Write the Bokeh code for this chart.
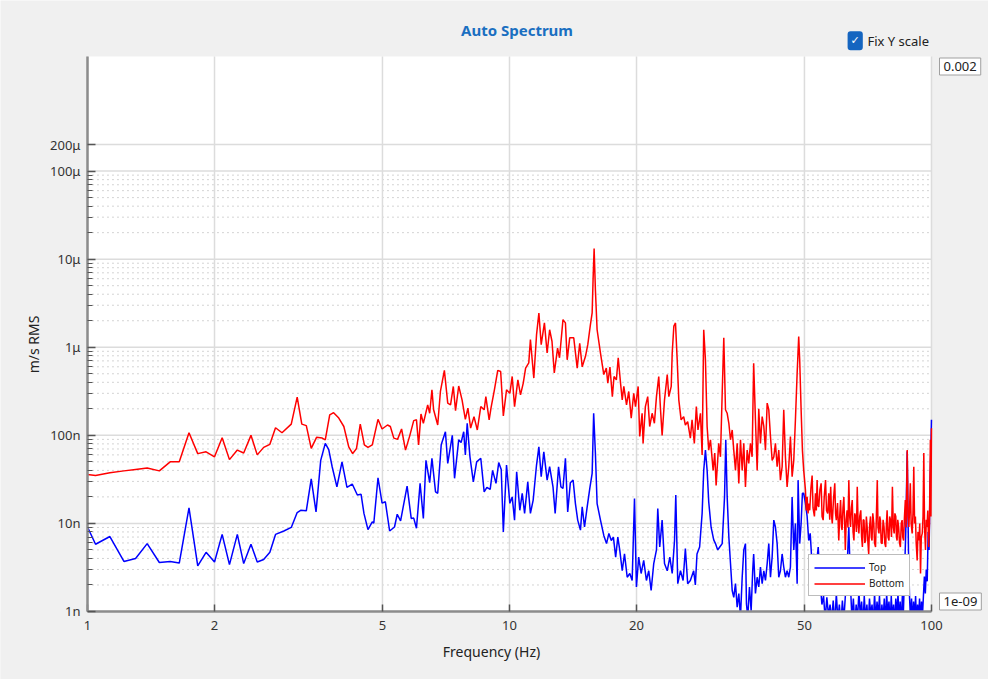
import math
from bokeh.plotting import figure
from bokeh.models import FixedTicker, CustomJSTickFormatter, Label
from bokeh.embed import file_html
from bokeh.resources import INLINE

# ---------------- data (frequency in Hz, amplitude in nm/s RMS) ----------------
top_freq = [
    1.0, 1.045, 1.13, 1.22, 1.30, 1.385, 1.48, 1.57, 1.65, 1.74, 1.825, 1.91, 2.0, 2.085, 2.17,
    2.265, 2.345, 2.44, 2.525, 2.615, 2.705, 2.79, 2.92, 3.04, 3.14, 3.20, 3.30, 3.39, 3.48, 3.57,
    3.66, 3.73, 3.80, 3.90, 4.01, 4.12, 4.24, 4.36, 4.45, 4.52, 4.62, 4.73, 4.77, 4.88, 4.99,
    5.08, 5.20, 5.34, 5.42, 5.52, 5.72, 5.85, 5.93, 6.02, 6.14, 6.25, 6.34, 6.47, 6.55, 6.68,
    6.76, 6.89, 7.05, 7.14, 7.32, 7.41, 7.58, 7.68, 7.79, 7.86, 7.94, 8.06, 8.21, 8.36, 8.55,
    8.71, 8.84, 9.0, 9.12, 9.29, 9.43, 9.56, 9.67, 9.84, 10.02, 10.15, 10.28, 10.40, 10.58, 10.72,
    10.86, 11.05, 11.21, 11.38, 11.59, 11.74, 11.89, 12.06, 12.28, 12.45, 12.68, 12.83, 13.07, 13.24, 13.39,
    13.57, 13.74, 13.94, 14.15, 14.33, 14.51, 14.73, 14.87, 15.06, 15.28, 15.5, 15.7, 15.83, 15.98, 16.13,
    16.43, 16.73, 16.98, 17.2, 17.43, 17.63, 17.85, 18.06, 18.25, 18.5, 18.73, 19.01, 19.28, 19.53, 19.78,
    19.99, 20.24, 20.51, 20.8, 21.11, 21.38, 21.66, 21.97, 22.3, 22.46, 22.7, 23.0, 23.3, 23.65, 23.99,
    24.3, 24.61, 24.78, 25.05, 25.42, 25.79, 26.11, 26.44, 26.83, 27.32, 27.57, 27.82, 28.22, 28.61, 28.86,
    29.13, 29.40, 29.66, 30.05, 30.48, 30.77, 31.15, 31.50, 31.92, 32.33, 32.55, 32.8, 33.1, 33.4, 33.71,
    34.0, 34.32, 34.64, 34.95, 35.27, 35.6, 35.91, 36.24, 36.44, 36.7, 37.04, 37.38, 37.7, 37.9, 38.27,
    38.63, 38.97, 39.33, 39.7, 40.06, 40.42, 40.8, 41.16, 41.54, 41.92, 42.3, 42.68, 43.08, 43.46, 43.86,
    44.27, 44.66, 45.07, 45.49, 45.9, 46.32, 46.75, 47.17, 47.6, 48.05, 48.3, 48.72, 49.1, 49.45, 49.8,
    50.27, 50.74, 51.18, 51.6, 52.1, 52.6, 53.3, 53.9, 54.6, 55.0, 55.5, 56.0, 56.5, 57.0, 57.5,
    58.0, 58.5, 59.0, 59.5, 60.0, 60.5, 61.0, 61.5, 62.0, 62.5, 63.0, 63.7, 64.3, 64.8, 65.3,
    65.8, 66.3, 66.8, 67.3, 67.8, 68.3, 68.8, 69.3, 69.8, 70.3, 70.8, 71.3, 71.8, 72.3, 72.8,
    73.3, 73.8, 74.3, 74.8, 75.3, 75.8, 76.3, 76.8, 77.3, 77.8, 78.3, 78.8, 79.3, 79.8, 80.3,
    80.8, 81.3, 81.8, 82.3, 82.8, 83.3, 83.8, 84.3, 84.8, 85.3, 85.8, 86.3, 86.9, 87.6, 88.2,
    88.7, 89.2, 89.7, 90.2, 90.7, 91.2, 91.7, 92.2, 92.7, 93.2, 93.7, 94.2, 94.7, 95.2, 95.7,
    96.2, 96.7, 97.2, 97.7, 98.2, 98.7, 99.2, 99.6, 100.0,
]
top_nms = [
    9.1, 5.8, 7.1, 3.7, 4.0, 5.9, 3.6, 3.7, 3.55, 15, 3.3, 4.7, 3.65, 7.5, 3.4,
    7.5, 3.5, 5.8, 3.65, 3.9, 4.7, 7.5, 8.2, 9.0, 13.3, 14.1, 13.9, 32, 13.5, 52,
    81, 69, 44, 26, 50, 25.6, 28, 21, 21.4, 13, 8.5, 10.4, 10.1, 33, 17,
    17.6, 8.2, 9.1, 12.7, 10.7, 26.5, 11.4, 11.5, 8.8, 28.5, 11.4, 52, 29, 55, 22.8,
    22, 78, 110, 48, 100, 32.5, 89, 83, 110, 60, 137, 57, 29.6, 50, 55,
    22.8, 25.6, 24.3, 40, 28.5, 49, 41, 8, 46, 16.9, 20, 10.9, 38.6, 14.1, 22,
    13, 29.6, 13, 18.4, 46, 74, 34, 65, 31, 44, 26, 13, 44, 26, 25,
    55, 13.5, 29, 31, 16.8, 10.9, 8.4, 15.4, 9.1, 15.4, 25, 37, 178, 63, 16.8,
    10.9, 7.3, 5.9, 7.7, 6.4, 7, 4.15, 7, 5, 2.9, 4.5, 2.45, 2.7, 2.25, 19.2,
    1.9, 4.15, 2.7, 3.8, 2.25, 2.9, 1.73, 3.5, 5, 14.8, 5.4, 10.9, 3.5, 2.9, 4.15,
    2.7, 6.4, 21, 2.07, 2.9, 2.25, 5.2, 2.07, 2.25, 2.9, 2, 4.5, 5.4, 13, 40,
    68, 40, 17.5, 9, 6.5, 5.9, 5, 5.4, 5.9, 20, 89, 20, 7, 3.5, 1.73,
    1.45, 2.07, 1.12, 1.6, 0.86, 2.45, 5, 5.9, 1.22, 0.86, 1.9, 1.02, 2.9, 4.5, 1.6,
    2.45, 1.9, 3.2, 2.07, 2.9, 2.25, 3.5, 5.9, 2.45, 4.15, 10.9, 9.1, 5.9, 2.45, 2.9,
    4.5, 3.2, 2.45, 2.9, 2.45, 3.2, 20, 5, 10, 2.07, 31, 5.9, 10, 22, 22,
    17, 12, 6.4, 7.7, 3.5, 4.5, 3.2, 5.4, 1.9, 1.2, 1.5, 0.8, 1.45, 0.9, 1.2,
    0.8, 1.33, 0.7, 1.6, 0.8, 1.2, 0.7, 1.33, 0.8, 1.5, 2.7, 9.1, 1.9, 0.8, 1.4,
    0.7, 1.2, 0.8, 1.7, 0.9, 1.3, 0.7, 1.5, 0.8, 1.2, 0.7, 1.4, 0.9, 1.2, 0.7,
    1.6, 0.8, 1.3, 0.9, 1.5, 0.7, 1.2, 0.8, 1.4, 0.7, 1.6, 0.9, 1.3, 0.7, 1.5,
    0.8, 1.2, 0.7, 1.4, 0.9, 1.6, 0.8, 1.3, 0.7, 1.5, 1.0, 2.5, 8, 66, 5,
    1.5, 0.8, 1.4, 0.7, 1.3, 0.8, 1.5, 0.7, 1.2, 0.8, 1.4, 0.7, 1.3, 0.9, 1.5,
    2.5, 1.6, 3, 2.2, 8, 5, 25, 60, 150,
]

bottom_freq = [
    1.0, 1.045, 1.13, 1.22, 1.30, 1.385, 1.48, 1.57, 1.65, 1.74, 1.825, 1.91, 2.0, 2.085, 2.17,
    2.265, 2.345, 2.44, 2.525, 2.615, 2.705, 2.79, 2.89, 3.04, 3.14, 3.22, 3.30, 3.39, 3.49, 3.60,
    3.66, 3.75, 3.83, 3.94, 4.05, 4.16, 4.25, 4.34, 4.43, 4.53, 4.62, 4.73, 4.88, 4.99, 5.14,
    5.22, 5.32, 5.43, 5.55, 5.67, 5.80, 5.93, 6.02, 6.09, 6.17, 6.25, 6.40, 6.47, 6.55, 6.61,
    6.76, 6.86, 7.01, 7.14, 7.25, 7.36, 7.45, 7.58, 7.72, 7.86, 7.97, 8.09, 8.24, 8.39, 8.55,
    8.71, 8.79, 8.95, 9.04, 9.21, 9.38, 9.53, 9.67, 9.84, 10.02, 10.15, 10.28, 10.47, 10.62, 10.78,
    10.92, 11.11, 11.21, 11.42, 11.59, 11.74, 11.89, 12.1, 12.28, 12.45, 12.61, 12.77, 13.0, 13.14, 13.39,
    13.57, 13.7, 13.89, 14.2, 14.47, 14.67, 14.87, 15.14, 15.33, 15.55, 15.7, 15.78, 15.87, 15.98, 16.13,
    16.43, 16.73, 16.96, 17.1, 17.3, 17.53, 17.69, 17.92, 18.1, 18.33, 18.5, 18.66, 18.94, 19.17, 19.43,
    19.7, 19.89, 20.18, 20.35, 20.62, 20.73, 20.99, 21.26, 21.49, 21.78, 22.05, 22.3, 22.58, 22.8, 23.0,
    23.3, 23.65, 23.86, 24.17, 24.3, 24.52, 24.74, 24.97, 25.19, 25.51, 25.87, 26.11, 26.44, 26.83, 27.08,
    27.42, 27.72, 27.97, 28.35, 28.61, 28.86, 29.13, 29.40, 29.66, 29.94, 30.38, 30.65, 30.88, 31.32, 31.62,
    31.92, 32.2, 32.5, 32.8, 33.1, 33.4, 33.71, 34.0, 34.32, 34.64, 34.95, 35.27, 35.6, 35.91, 36.24,
    36.58, 36.9, 37.24, 37.58, 37.9, 38.27, 38.63, 38.97, 39.33, 39.7, 40.06, 40.42, 40.8, 41.16, 41.54,
    41.92, 42.3, 42.68, 43.08, 43.46, 43.86, 44.27, 44.66, 45.07, 45.49, 45.9, 46.32, 46.75, 47.17, 47.6,
    48.05, 48.46, 48.72, 49.1, 49.45, 49.8,
    50.27, 50.5, 50.74, 51.0, 51.18, 51.46, 51.8, 52.14, 52.4, 52.8, 53.1, 53.35, 53.58, 53.8, 54.06,
    54.4, 54.77, 55.05, 55.38, 55.7, 56.1, 56.4, 56.77, 57.1, 57.4, 57.7, 58.0, 58.2, 58.6, 59.0,
    59.25, 59.5, 59.9, 60.3, 60.6, 60.9, 61.2, 61.4, 61.7, 62.0, 62.3, 62.5, 62.8, 63.1, 63.4,
    63.7, 64.0, 64.3, 64.6, 64.9, 65.2, 65.5, 65.8, 66.1, 66.4, 66.7, 67.0, 67.3, 67.6, 68.0,
    68.3, 68.6, 68.9, 69.2, 69.5, 69.8, 70.1, 70.4, 70.7, 71.0, 71.3, 71.7, 72.0, 72.3, 72.6,
    73.0, 73.3, 73.7, 74.0, 74.4, 74.7, 75.1, 75.4, 75.7, 76.0, 76.4, 76.8, 77.2, 77.5, 77.9,
    78.2, 78.5, 78.9, 79.3, 79.6, 80.0, 80.4, 80.8, 81.2, 81.6, 81.9, 82.3, 82.6, 82.9, 83.2,
    83.6, 84.0, 84.4, 84.8, 85.2, 85.5, 85.9, 86.3, 86.7, 87.1, 87.6, 88.0, 88.4, 88.7, 89.1,
    89.5, 90.0, 90.4, 90.8, 91.2, 91.6, 92.0, 92.5, 92.9, 93.4, 93.8, 94.2, 94.6, 95.1, 95.5,
    95.9, 96.3, 96.8, 97.2, 97.6, 98.0, 98.5, 98.9, 99.4, 99.7, 100.0,
]
bottom_nms = [
    36, 35, 37.6, 39.5, 41, 42.5, 39.5, 50, 50, 107, 62, 65, 57, 94, 53,
    68, 63, 100, 60, 73, 79, 122, 107, 134, 272, 134, 129, 71, 95, 93,
    89, 171, 181, 157, 126, 74, 62, 71, 134, 78, 73, 78, 152, 118, 131,
    126, 93, 90, 118, 68, 98, 147, 150, 78, 175, 137, 222, 178, 329, 195,
    131, 315, 546, 232, 222, 359, 191, 363, 253, 152, 204, 121, 163, 115, 212,
    195, 275, 150, 204, 329, 546, 530, 166, 329, 300, 466, 212, 427, 288, 392,
    580, 664, 1220, 447, 1380, 2450, 1070, 1890, 860, 1580, 1170, 510, 980, 760, 2060,
    1890, 720, 1280, 1280, 580, 1110, 600, 790, 1070, 1800, 2450, 5900, 13200, 4530, 1580,
    860, 490, 580, 392, 596, 275, 466, 427, 760, 392, 253, 359, 222, 315, 157,
    300, 212, 359, 97, 178, 81, 212, 275, 126, 178, 137, 275, 466, 195, 100,
    253, 490, 275, 359, 860, 1740, 1890, 720, 253, 150, 163, 131, 143, 93, 150,
    81, 212, 115, 178, 60, 1580, 720, 126, 68, 89, 40, 63, 27, 81, 57,
    300, 1280, 195, 178, 137, 89, 115, 68, 40, 81, 28.5, 89, 40, 81, 26,
    68, 48, 81, 57, 660, 150, 40, 200, 81, 163, 126, 68, 232, 195, 97,
    52, 57, 81, 44, 68, 31, 44, 195, 57, 26, 44, 97, 34, 52, 150,
    510, 1320, 720, 195, 68, 40,
    24, 14, 20, 13, 16.8, 14.1, 25, 35, 15, 12, 22, 14, 31, 16, 15.4,
    24, 28.5, 12, 10.9, 20, 31, 14, 13, 22, 11, 26, 12, 10, 19, 28.5,
    13, 10.9, 17, 6.4, 12, 18.4, 9, 8.4, 15, 20, 9, 5, 11, 14.1, 9,
    31, 12, 9.1, 15, 18.4, 8, 6.4, 13, 12, 8, 26, 10, 7.7, 12, 14.1,
    7, 5.4, 11, 10.9, 6, 6.4, 12, 9.1, 6, 4.5, 9, 12, 7, 6.4, 13,
    10, 6, 5.4, 11, 31, 9, 7.7, 12, 10.9, 6, 5.9, 11, 9.1, 6, 5.4,
    10, 14.1, 7, 6.4, 12, 10.9, 7, 26, 9, 7.7, 13, 12, 7, 6.4, 11,
    9.1, 6, 5.4, 10, 10.9, 7, 6.4, 12, 18.4, 9, 68, 12, 9.1, 14, 28.5,
    10, 7.7, 13, 44, 10, 12, 6, 3.8, 8, 6.4, 10, 2.7, 7, 7.7, 12,
    63, 9, 5, 11, 9.1, 14, 5.4, 10, 89, 12, 120,
]

x_tick_values = [1, 2, 5, 10, 20, 50, 100]
x_tick_labels = ["1", "2", "5", "10", "20", "50", "100"]
y_tick_values = [1e-9, 1e-8, 1e-7, 1e-6, 1e-5, 1e-4, 2e-4]
y_tick_labels = ["1n", "10n", "100n", "1μ", "10μ", "100μ", "200μ"]
y_minor_values = [m * 10.0 ** e for e in range(-9, -4) for m in range(2, 10)]
x_limits = (1, 100)          # plotted frequency span
y_limits = (1e-9, 2e-3)      # fixed y scale
x_view = (0.6221, 136.5)     # whole canvas is the frame; the plot box sits inside it
y_view = (1.69e-10, 8.65e-3)

NANO = 1e-9
top_vals = [v * NANO for v in top_nms]
bottom_vals = [v * NANO for v in bottom_nms]

FONT = "Noto Sans"
BG = "#f0f0f0"

p = figure(width=988, height=679, x_axis_type="log", y_axis_type="log",
           x_range=x_view, y_range=y_view, title_location=None,
           output_backend="svg", toolbar_location=None,
           background_fill_color=BG, border_fill_color=BG,
           min_border_left=0, min_border_right=0, min_border_top=0, min_border_bottom=0)
p.outline_line_color = None
p.xgrid.visible = False
p.ygrid.visible = False

# white plotting area and grid lines (bounded to the plotted span)
p.quad(left=[x_limits[0]], right=[x_limits[1]], bottom=[y_limits[0]], top=[y_limits[1]],
       fill_color="white", line_color=None, level="image")
p.segment(x0=[x_limits[0]] * len(y_minor_values), x1=[x_limits[1]] * len(y_minor_values),
          y0=y_minor_values, y1=y_minor_values, line_color="#a8a8a8", line_width=1,
          line_dash="1 4", level="underlay")
p.segment(x0=[x_limits[0]] * len(y_tick_values), x1=[x_limits[1]] * len(y_tick_values),
          y0=y_tick_values, y1=y_tick_values, line_color="#dcdcdc", line_width=1.5, level="underlay")
p.segment(x0=x_tick_values, x1=x_tick_values, y0=[y_limits[0]] * len(x_tick_values),
          y1=[y_limits[1]] * len(x_tick_values), line_color="#dcdcdc", line_width=1.5, level="underlay")

p.line(top_freq, top_vals, line_color="#0000ff", line_width=1.5, legend_label="Top")
p.line(bottom_freq, bottom_vals, line_color="#ff0000", line_width=1.5, legend_label="Bottom")

# mask everything below the fixed y scale (values under 1n are clipped)
p.quad(left=[x_view[0]], right=[x_view[1]], bottom=[y_view[0]], top=[y_limits[0]],
       fill_color=BG, line_color=None)

# axes drawn at fixed locations inside the canvas-wide frame
p.xaxis.fixed_location = y_limits[0]
p.yaxis.fixed_location = x_limits[0]
p.xaxis.ticker = FixedTicker(ticks=x_tick_values)
p.xaxis.formatter = CustomJSTickFormatter(args=dict(vals=x_tick_values, labs=x_tick_labels), code="""
for (let i = 0; i < vals.length; i++) {
  if (Math.abs(tick - vals[i]) < 1e-6 * vals[i]) return labs[i];
}
return "";
""")
p.yaxis.ticker = FixedTicker(ticks=y_tick_values, minor_ticks=y_minor_values)
p.yaxis.formatter = CustomJSTickFormatter(args=dict(vals=y_tick_values, labs=y_tick_labels), code="""
for (let i = 0; i < vals.length; i++) {
  if (Math.abs(Math.log10(tick) - Math.log10(vals[i])) < 1e-6) return labs[i];
}
return "";
""")
p.xaxis.bounds = x_limits
p.yaxis.bounds = y_limits
for ax in (p.xaxis[0], p.yaxis[0]):
    ax.axis_line_color = "#8c8c8c"
    ax.axis_line_width = 2.5
    ax.major_tick_line_color = "#555555"
    ax.major_tick_line_width = 1.5
    ax.minor_tick_line_color = "#555555"
    ax.major_tick_out = 0
    ax.minor_tick_out = 0
    ax.major_label_text_font = FONT
    ax.major_label_text_font_size = "13px"
    ax.major_label_text_color = "#333333"
p.yaxis.major_tick_in = 8
p.yaxis.minor_tick_in = 5
p.xaxis.major_tick_in = 7
p.xaxis.minor_tick_in = 0
p.xaxis.major_label_standoff = 10
p.yaxis.major_label_standoff = 7

# legend
lg = p.legend[0]
lg.location = (808, 83)
lg.padding = 5
lg.spacing = 2
lg.glyph_width = 51
lg.glyph_height = 13
lg.label_height = 13
lg.label_standoff = 4
lg.label_text_font = FONT
lg.label_text_font_size = "10px"
lg.label_text_color = "#222222"
lg.border_line_color = "#7a7a7a"
lg.border_line_width = 1
lg.background_fill_alpha = 1

# texts (screen units, origin at the canvas bottom-left)
def add_text(x, y, text, **kw):
    opts = dict(x_units="screen", y_units="screen", text_font=FONT, text_font_size="13px",
                text_color="#222222", text_baseline="middle", text_align="left")
    opts.update(kw)
    p.add_layout(Label(x=x, y=y, text=text, **opts))

add_text(516.5, 650, "Auto Spectrum", text_align="center", text_font_size="15px",
         text_font_style="bold", text_color="#1a6fc1")
add_text(491, 28, "Frequency (Hz)", text_align="center", text_font_size="14px")
add_text(33, 335, "m/s RMS", text_align="center", text_font_size="14px",
         angle=math.pi / 2, angle_units="rad")
add_text(854.7, 638.7, "✓", text_align="center", text_font="DejaVu Sans", text_font_size="11px",
         text_color="white", text_line_height=1.0, background_fill_color="#1565c0",
         padding=3, border_radius=3)
add_text(867, 638.7, "Fix Y scale")
add_text(939, 613, "0.002", background_fill_color="white", border_line_color="#a0a0a0", padding=4)
add_text(939, 78, "1e-09", background_fill_color="white", border_line_color="#a0a0a0", padding=4)

open("out.html", "w").write(file_html(p, INLINE))
